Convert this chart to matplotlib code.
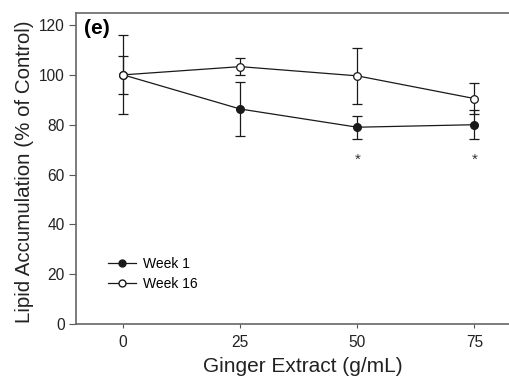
import matplotlib
matplotlib.use('Agg')
import matplotlib.pyplot as plt
from matplotlib.lines import Line2D

plt.rcParams['font.family'] = ['Liberation Sans', 'DejaVu Sans']

# data
dose = [0, 25, 50, 75]
week1 = [100, 86.3, 79.0, 80.0]
week1_err = [7.6, 11.0, 4.6, 5.9]
week16 = [100, 103.3, 99.6, 90.5]
week16_err = [15.8, 3.3, 11.1, 6.4]
sig_dose = [50, 75]
sig_y = [66.0, 66.0]

fig = plt.figure(figsize=(5.09, 3.80), dpi=100)
ax = fig.add_axes([0.150, 0.147, 0.85, 0.820])

ax.errorbar(dose, week1, yerr=week1_err, color='#1a1a1a', lw=0.9,
            marker='o', ms=5.5, mfc='#1a1a1a', mec='#1a1a1a',
            capsize=3.3, capthick=0.9, elinewidth=0.9, zorder=3)
ax.errorbar(dose, week16, yerr=week16_err, color='#1a1a1a', lw=0.9,
            marker='o', ms=5.5, mfc='white', mec='#1a1a1a', mew=0.9,
            capsize=3.3, capthick=0.9, elinewidth=0.9, zorder=4)

for xd, yd in zip(sig_dose, sig_y):
    ax.text(xd, yd, '*', ha='center', va='center', fontsize=11, color='#333333')

ax.text(-8.4, 118.5, '(e)', fontsize=15, fontweight='bold', ha='left', va='center')

ax.set_xlim(-10, 82.4)
ax.set_ylim(0, 125)
ax.set_xticks([0, 25, 50, 75])
ax.set_yticks(range(0, 121, 20))
ax.tick_params(axis='both', labelsize=11.2, colors='#222222', length=5,
               width=0.8, direction='out')
ax.tick_params(axis='both', color='#555555')
ax.tick_params(axis='x', length=3, pad=5)

for side in ['left', 'bottom', 'top']:
    ax.spines[side].set_color('#666666')
    ax.spines[side].set_linewidth(1.2)
ax.spines['right'].set_visible(False)

ax.set_xlabel('Ginger Extract (g/mL)', fontsize=15, color='#222222')
ax.set_ylabel('Lipid Accumulation (% of Control)', fontsize=14.8, color='#222222')
ax.xaxis.set_label_coords(0.5235, -0.106)
ax.yaxis.set_label_coords(-0.098, 0.488)

handles = [
    Line2D([], [], color='#1a1a1a', lw=0.9, marker='o', ms=5,
           mfc='#1a1a1a', mec='#1a1a1a'),
    Line2D([], [], color='#1a1a1a', lw=0.9, marker='o', ms=5,
           mfc='white', mec='#1a1a1a'),
]
ax.legend(handles, ['Week 1', 'Week 16'], loc='lower left',
          bbox_to_anchor=(0.06, 0.09), frameon=False, fontsize=10,
          handlelength=2.0, handletextpad=0.5, labelspacing=0.4,
          borderaxespad=0)

fig.savefig('out.png', dpi=100)
